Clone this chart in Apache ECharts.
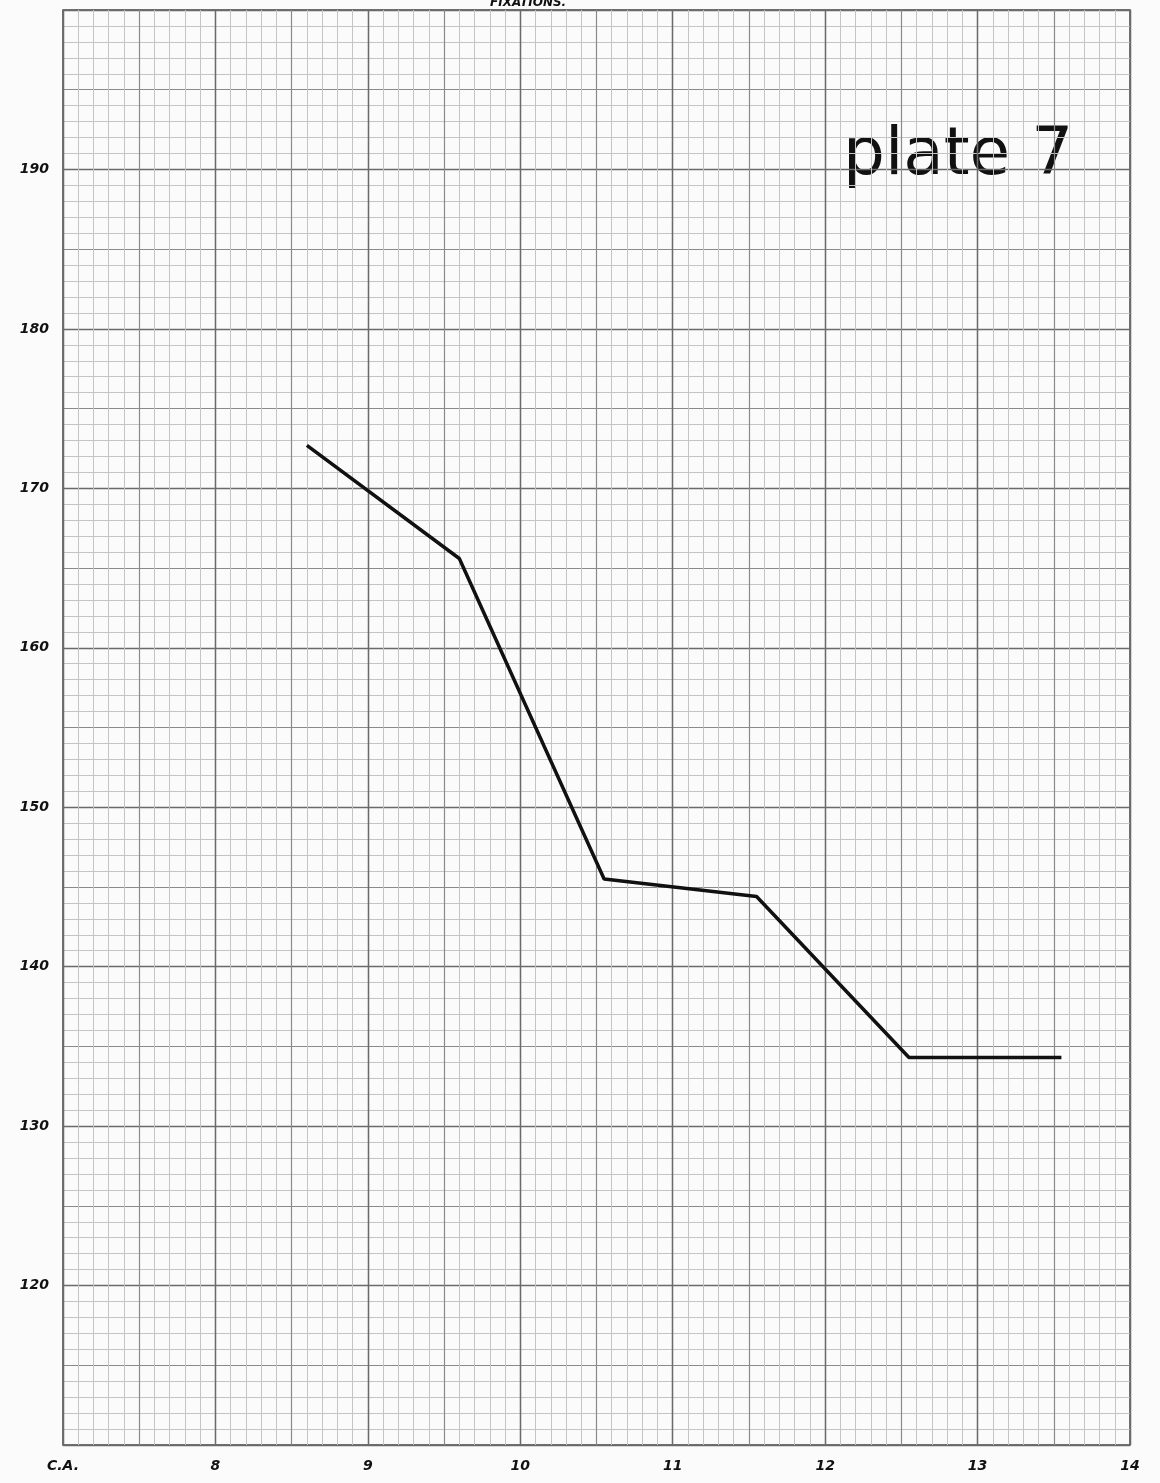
<!DOCTYPE html>
<html>
<head>
<meta charset="utf-8">
<script src="https://cdn.jsdelivr.net/npm/echarts@6/dist/echarts.min.js"></script>
<style>
  html, body { margin: 0; padding: 0; background: #fbfbfb; }
  #plate { width: 1160px; height: 1483px; }
</style>
</head>
<body>
<div id="plate"></div>
<script>
// readings off the plate (x = age, y = fixations)
var ages = [8.6, 9.6, 10.55, 11.55, 12.55, 13.55];
var fixations = [172.7, 165.6, 145.5, 144.4, 134.3, 134.3];

var xTickLabels = { 7: 'C.A.', 8: '8', 9: '9', 10: '10', 11: '11', 12: '12', 13: '13', 14: '14' };
var yTickLabels = { 120: '120', 130: '130', 140: '140', 150: '150', 160: '160', 170: '170', 180: '180', 190: '190' };

var chart = echarts.init(document.getElementById('plate'));

var labelFont = {
    color: '#111',
    fontFamily: 'DejaVu Sans',
    fontWeight: 'bold',
    fontStyle: 'italic',
    fontSize: 14
};

var option = {
    backgroundColor: '#fbfbfb',
    animation: false,
    grid: {
        left: 63, right: 30, top: 10, bottom: 38,
        outerBoundsMode: 'none',
        containLabel: false,
        show: true,
        borderColor: '#444',
        borderWidth: 1.5
    },
    graphic: [
        {
            type: 'text',
            left: 490, top: -3,
            style: {
                text: 'FIXATIONS.',
                fill: '#111',
                font: 'italic bold 12px "DejaVu Sans"'
            }
        },
        {
            type: 'text',
            left: 843, top: 124,
            style: {
                text: 'plate 7',
                fill: '#111',
                font: '66px "DejaVu Sans"'
            }
        }
    ],
    xAxis: [
        {
            type: 'value', min: 7, max: 14, interval: 0.5, position: 'bottom',
            axisLine: { show: false }, axisTick: { show: false }, axisLabel: { show: false },
            splitLine: { lineStyle: { color: '#8a8a8a', width: 1.2 } },
            minorTick: { show: false, splitNumber: 5 },
            minorSplitLine: { show: true, lineStyle: { color: '#c4c4c4', width: 1 } }
        },
        {
            type: 'value', min: 7, max: 14, interval: 1, position: 'bottom',
            axisLine: { show: false }, axisTick: { show: false },
            axisLabel: Object.assign({
                margin: 14,
                formatter: function (v) { return xTickLabels[v] || ''; }
            }, labelFont),
            splitLine: { lineStyle: { color: '#6a6a6a', width: 1.4 } }
        }
    ],
    yAxis: [
        {
            type: 'value', min: 110, max: 200, interval: 5, position: 'left',
            axisLine: { show: false }, axisTick: { show: false }, axisLabel: { show: false },
            splitLine: { lineStyle: { color: '#8a8a8a', width: 1.2 } },
            minorTick: { show: false, splitNumber: 5 },
            minorSplitLine: { show: true, lineStyle: { color: '#c4c4c4', width: 1 } }
        },
        {
            type: 'value', min: 110, max: 200, interval: 10, position: 'left',
            axisLine: { show: false }, axisTick: { show: false },
            axisLabel: Object.assign({
                margin: 14,
                formatter: function (v) { return yTickLabels[v] || ''; }
            }, labelFont),
            splitLine: { lineStyle: { color: '#6a6a6a', width: 1.4 } }
        }
    ],
    series: [
        {
            type: 'line',
            xAxisIndex: 1,
            yAxisIndex: 1,
            data: ages.map(function (a, i) { return [a, fixations[i]]; }),
            showSymbol: false,
            lineStyle: { color: '#111', width: 3.5 }
        }
    ]
};

chart.setOption(option);

window.onresize = chart.resize;
</script>
</body>
</html>
